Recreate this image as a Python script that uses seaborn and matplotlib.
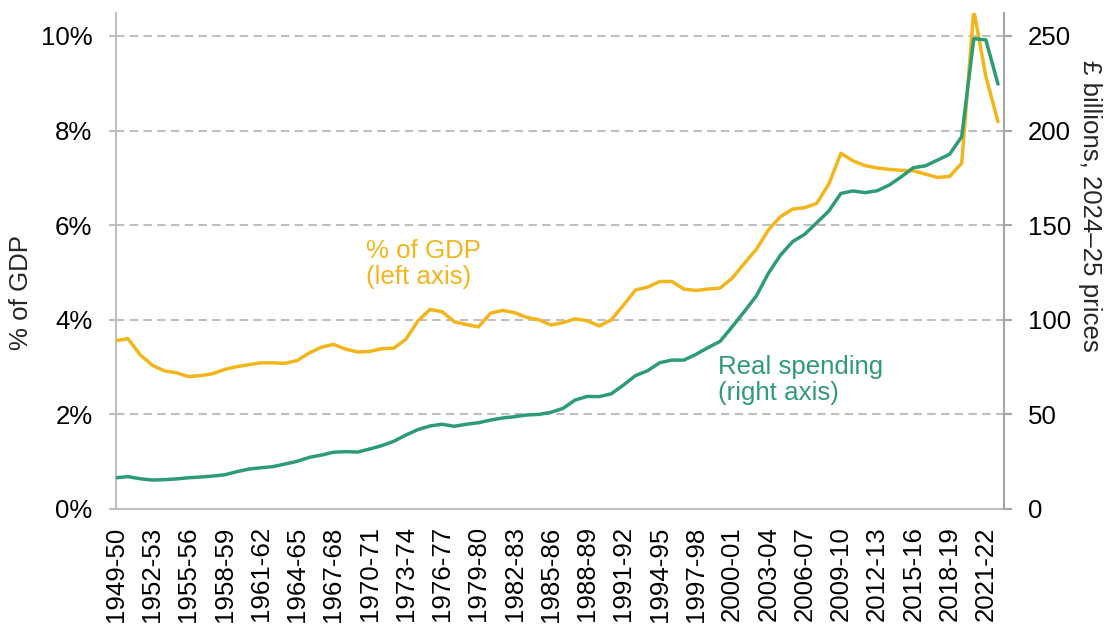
import matplotlib
matplotlib.use("Agg")
import matplotlib.pyplot as plt
import seaborn as sns
import pandas as pd
import numpy as np

# ---- data ----
years = [f"{y}-{str(y + 1)[-2:]}" for y in range(1949, 2023)]

pct_gdp = [3.56, 3.60, 3.26, 3.04, 2.92, 2.88, 2.80, 2.82, 2.86, 2.95,
           3.01, 3.05, 3.09, 3.09, 3.08, 3.14, 3.30, 3.42, 3.48, 3.38,
           3.32, 3.33, 3.39, 3.40, 3.59, 3.98, 4.22, 4.17, 3.96, 3.90,
           3.85, 4.14, 4.20, 4.15, 4.05, 4.00, 3.89, 3.94, 4.02, 3.98,
           3.87, 4.00, 4.31, 4.63, 4.69, 4.81, 4.81, 4.65, 4.62, 4.65,
           4.67, 4.88, 5.19, 5.49, 5.90, 6.18, 6.34, 6.37, 6.46, 6.87,
           7.52, 7.36, 7.26, 7.21, 7.18, 7.16, 7.15, 7.08, 7.01, 7.03,
           7.31, 10.55, 9.14, 8.19]

real_spend = [16.5, 17.1, 16.0, 15.3, 15.5, 15.9, 16.5, 16.9, 17.4, 18.1,
              19.7, 21.1, 21.8, 22.4, 23.8, 25.2, 27.3, 28.5, 30.0, 30.3,
              30.1, 31.7, 33.5, 35.8, 39.1, 42.0, 43.9, 44.8, 43.7, 44.8,
              45.6, 47.0, 48.1, 48.8, 49.7, 50.0, 51.1, 53.2, 57.6, 59.5,
              59.4, 60.9, 65.5, 70.5, 73.1, 77.3, 78.7, 78.7, 81.7, 85.3,
              88.6, 96.3, 104.3, 112.6, 124.6, 134.2, 141.3, 145.2, 151.3, 157.5,
              166.8, 168.1, 167.2, 168.2, 171.2, 175.6, 180.4, 181.4, 184.4, 187.5,
              196.8, 248.6, 247.9, 224.6]

left_ticks = [0, 2, 4, 6, 8, 10]
right_ticks = [0, 50, 100, 150, 200, 250]

# ---- style ----
sns.set_style("white")
plt.rcParams["font.family"] = ["Liberation Sans", "DejaVu Sans"]
FS = 18.6
YELLOW = "#F2B51C"
GREEN = "#2E9C72"
GRID = "#BFBFBF"
RAX = "#A6A6A6"

df = pd.DataFrame({"idx": np.arange(len(years)), "pct": pct_gdp, "real": real_spend})

W, H = 1109, 624
fig = plt.figure(figsize=(W / 100, H / 100), dpi=100)
L, R, T, B = 116, 1004, 13, 509
ax = fig.add_axes([L / W, 1 - B / H, (R - L) / W, (B - T) / H])
ax2 = ax.twinx()

sns.lineplot(data=df, x="idx", y="pct", ax=ax, color=YELLOW, lw=2.5, zorder=3)
sns.lineplot(data=df, x="idx", y="real", ax=ax2, color=GREEN, lw=2.5, zorder=3)

ax.set_xlim(0, len(years) - 0.5)
ax.set_ylim(0, 10.486)
ax2.set_ylim(0, 262.15)

ax.set_yticks(left_ticks)
ax.set_yticklabels([f"{t}%" for t in left_ticks], fontsize=FS)
ax2.set_yticks(right_ticks)
ax2.set_yticklabels([str(t) for t in right_ticks], fontsize=FS)

xt = list(range(0, len(years), 3))
ax.set_xticks(xt)
ax.set_xticklabels([years[i] for i in xt], rotation=90, fontsize=FS)

ax.yaxis.grid(True, color=GRID, lw=1.5, linestyle=(0, (4, 2.6)))
ax.xaxis.grid(False)
ax2.grid(False)
ax.set_axisbelow(True)

for a in (ax, ax2):
    a.spines["top"].set_visible(False)
    a.set_xlabel("")
    a.set_ylabel("")
ax.spines["left"].set_color(GRID)
ax.spines["bottom"].set_color(GRID)
ax.spines["right"].set_visible(False)
ax2.spines["left"].set_visible(False)
ax2.spines["bottom"].set_visible(False)
ax2.spines["right"].set_color(RAX)
for s in ("left", "bottom"):
    ax.spines[s].set_linewidth(1.5)
ax2.spines["right"].set_linewidth(1.5)

ax.tick_params(axis="y", direction="out", length=5, width=1.5, color=GRID, pad=12, labelcolor="black")
ax.tick_params(axis="x", direction="out", length=5.5, width=1.5, color=GRID, pad=7, labelcolor="black")
ax2.tick_params(axis="y", direction="out", length=6, width=1.5, color=RAX, pad=11, labelcolor="black")

fig.text(21 / W, 1 - 292 / H, "% of GDP", rotation=90, ha="center", va="center", fontsize=FS)
fig.text(1090 / W, 1 - 206 / H, "£ billions, 2024–25 prices", rotation=270,
         ha="center", va="center", fontsize=FS)

fig.text(366 / W, 1 - 239 / H, "% of GDP\n(left axis)", color=YELLOW, fontsize=FS,
         ha="left", va="top", linespacing=1.12)
fig.text(718 / W, 1 - 355 / H, "Real spending\n(right axis)", color=GREEN, fontsize=FS,
         ha="left", va="top", linespacing=1.12)

fig.savefig("out.png", dpi=100)
